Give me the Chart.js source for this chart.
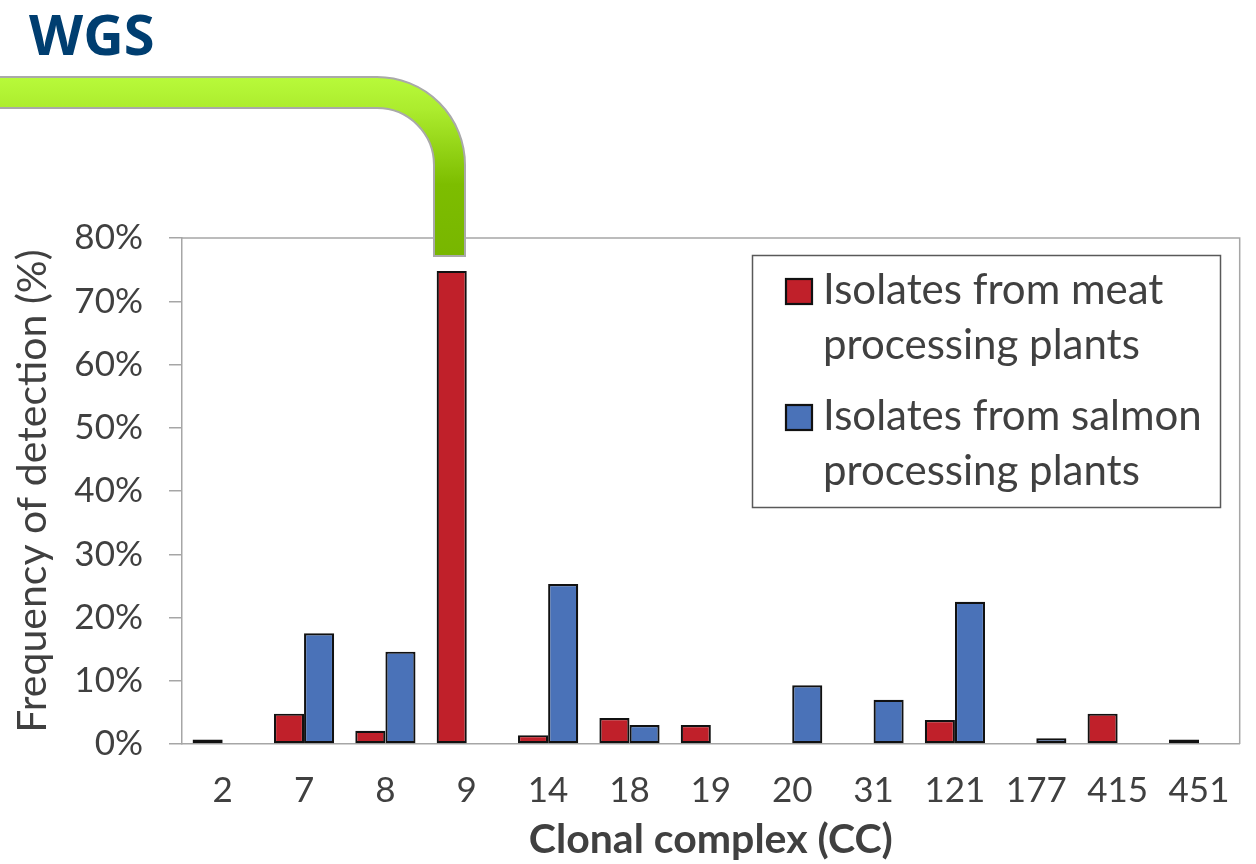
<!DOCTYPE html>
<html>
<head>
<meta charset="utf-8">
<script src="https://cdn.jsdelivr.net/npm/chart.js@4.4.1/dist/chart.umd.min.js"></script>
<style>
  html, body { margin: 0; padding: 0; background: #fff; }
  #wrap { width: 1256px; height: 864px; position: relative; }
</style>
</head>
<body>
<div id="wrap"><canvas id="myChart" width="1256" height="864"></canvas></div>
<script>
// data
var categories = ['2', '7', '8', '9', '14', '18', '19', '20', '31', '121', '177', '415', '451'];
var meatValues = [0.7, 4.8, 2.1, 74.8, 1.4, 4.1, 3.0, null, null, 3.8, null, 4.8, 0.7];
var salmonValues = [null, 17.5, 14.6, null, 25.3, 3.0, null, 9.3, 7.0, 22.5, 0.9, null, null];
var yTicks = [0, 10, 20, 30, 40, 50, 60, 70, 80];
var meatLegend = ['Isolates from meat', 'processing plants'];
var salmonLegend = ['Isolates from salmon', 'processing plants'];

var FONT = 'Lato, "Open Sans", sans-serif';
var TEXT = '#404040';
var AXIS = '#a6a6a6';

var pageObj = {};

// plot border, WGS title, green pipe, legend
var decoPlugin = {
    id: 'deco',
    beforeDatasetsDraw: function (chart) {
        var ctx = chart.ctx, a = chart.chartArea;
        ctx.save();
        ctx.strokeStyle = AXIS;
        ctx.lineWidth = 1.5;
        ctx.beginPath();
        ctx.moveTo(a.left, a.top);
        ctx.lineTo(a.right, a.top);
        ctx.lineTo(a.right, a.bottom);
        ctx.stroke();
        ctx.restore();
    },
    afterDraw: function (chart) {
        var ctx = chart.ctx;
        ctx.save();

        // title
        ctx.fillStyle = '#003e70';
        ctx.font = 'bold 56px "Open Sans", sans-serif';
        ctx.textBaseline = 'alphabetic';
        ctx.fillText('WGS', 29, 55);

        // green pipe
        var cx = 377, cy = 165, rOut = 88, rIn = 57;
        ctx.beginPath();
        ctx.moveTo(-5, cy - rOut);
        ctx.lineTo(cx, cy - rOut);
        ctx.arc(cx, cy, rOut, -Math.PI / 2, 0);
        ctx.lineTo(cx + rOut, 256);
        ctx.lineTo(cx + rIn, 256);
        ctx.lineTo(cx + rIn, cy);
        ctx.arc(cx, cy, rIn, 0, -Math.PI / 2, true);
        ctx.lineTo(-5, cy - rIn);
        ctx.closePath();
        var g = ctx.createLinearGradient(0, 77, 0, 256);
        g.addColorStop(0, '#b8fa3a');
        g.addColorStop(0.18, '#acec2e');
        g.addColorStop(0.6, '#7dbd00');
        g.addColorStop(1, '#78b600');
        ctx.fillStyle = g;
        ctx.fill();
        ctx.strokeStyle = '#a9a9a9';
        ctx.lineWidth = 2;
        ctx.stroke();

        // legend
        ctx.strokeStyle = '#595959';
        ctx.lineWidth = 1.5;
        ctx.strokeRect(752.5, 255.5, 468, 252);
        var items = [
            {lines: meatLegend, ds: chart.data.datasets[0], top: 279},
            {lines: salmonLegend, ds: chart.data.datasets[1], top: 405}
        ];
        ctx.font = '42px ' + FONT;
        items.forEach(function (it) {
            ctx.fillStyle = it.ds.backgroundColor;
            ctx.fillRect(786, it.top, 26, 25);
            ctx.strokeStyle = '#111';
            ctx.lineWidth = 2.2;
            ctx.strokeRect(786, it.top, 26, 25);
            ctx.fillStyle = TEXT;
            it.lines.forEach(function (t, i) {
                ctx.fillText(t, 823, it.top + 25 + i * 55);
            });
        });
        ctx.restore();
    }
};

pageObj.chartView = function () {
    var config = {
        type: 'bar',
        data: {
            labels: categories,
            datasets: [{
                label: meatLegend.join(' '),
                data: meatValues,
                backgroundColor: '#c0202a',
                borderColor: '#111',
                borderWidth: 2.2,
                borderSkipped: false
            }, {
                label: salmonLegend.join(' '),
                data: salmonValues,
                backgroundColor: '#4a72b8',
                borderColor: '#111',
                borderWidth: 2.2,
                borderSkipped: false
            }]
        },
        options: {
            responsive: false,
            animation: false,
            layout: {padding: {top: 238, right: 14, bottom: 0, left: 0}},
            datasets: {bar: {categoryPercentage: 0.74, barPercentage: 1.0}},
            plugins: {
                legend: {display: false},
                tooltip: {enabled: false}
            },
            scales: {
                x: {
                    grid: {drawOnChartArea: false, drawTicks: false},
                    border: {color: AXIS, width: 1.5},
                    ticks: {color: TEXT, font: {family: FONT, size: 35}, padding: 26},
                    title: {
                        display: true, text: 'Clonal complex (CC)', color: TEXT,
                        font: {family: FONT, size: 41, weight: 'bold'},
                        padding: {top: 0, bottom: 0}
                    },
                    afterFit: function (s) { s.height = 120; }
                },
                y: {
                    min: 0, max: 80,
                    afterBuildTicks: function (s) {
                        s.ticks = yTicks.map(function (v) { return {value: v}; });
                    },
                    grid: {drawOnChartArea: false, drawTicks: true, tickLength: 13, color: AXIS, lineWidth: 1.5},
                    border: {color: AXIS, width: 1.5},
                    ticks: {
                        color: TEXT, font: {family: FONT, size: 35}, padding: 26,
                        callback: function (v) { return v + '%'; }
                    },
                    title: {
                        display: true, text: 'Frequency of detection (%)', color: TEXT,
                        font: {family: FONT, size: 41},
                        padding: {top: 8, bottom: 0}
                    },
                    afterFit: function (s) { s.width = 182; }
                }
            }
        },
        plugins: [decoPlugin]
    };

    var myChart = new Chart(document.getElementById('myChart'), config);
};

pageObj.chartView();
</script>
</body>
</html>
